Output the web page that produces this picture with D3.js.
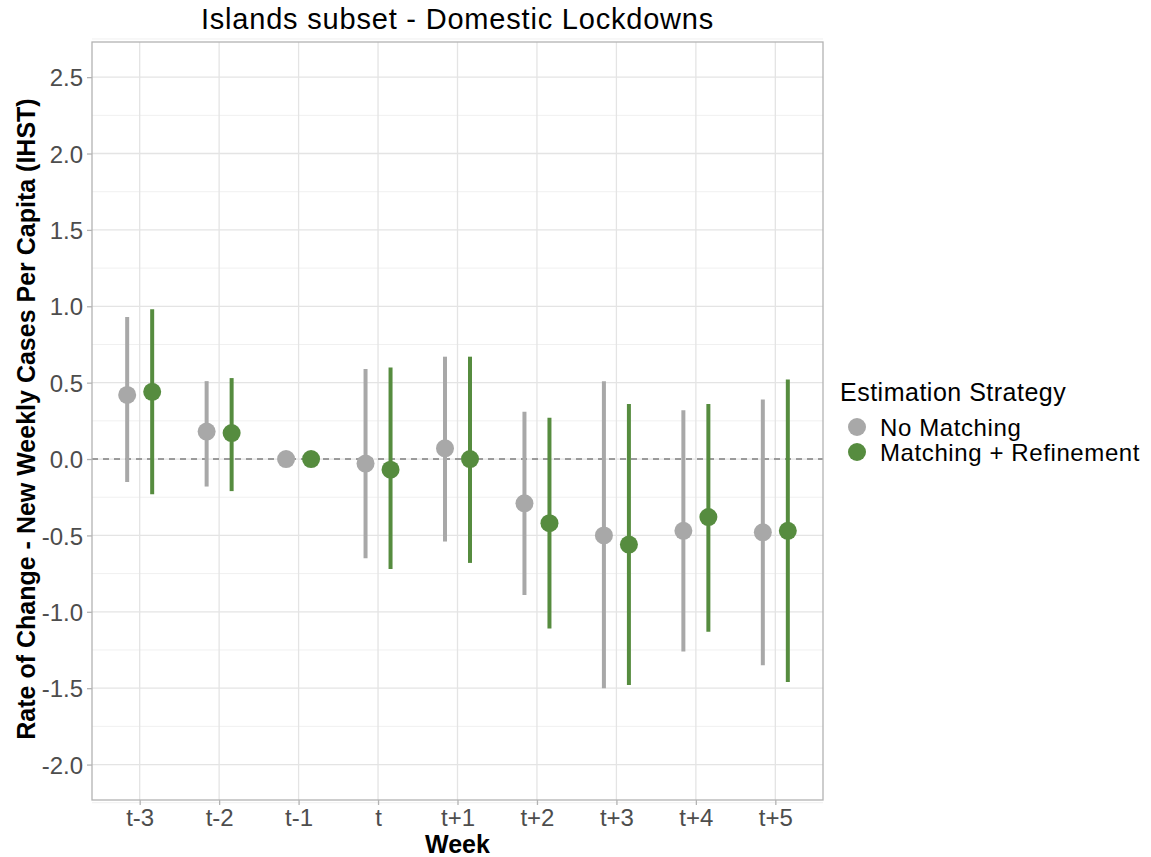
<!DOCTYPE html>
<html>
<head>
<meta charset="utf-8">
<script src="https://cdn.jsdelivr.net/npm/d3@7"></script>
<style>
  body { margin: 0; background: #fff; }
  svg { font-family: "Liberation Sans", Arial, sans-serif; }
</style>
</head>
<body>
<div id="chart"></div>
<script>
// Data
const weeks = ["t-3", "t-2", "t-1", "t", "t+1", "t+2", "t+3", "t+4", "t+5"];
const strategies = ["No Matching", "Matching + Refinement"];
const colors = ["#a8a8a8", "#568c3f"];

const noMatchEst   = [0.42, 0.18, 0.00, -0.03, 0.07, -0.29, -0.50, -0.47, -0.48];
const noMatchLow   = [-0.15, -0.18, 0.00, -0.65, -0.54, -0.89, -1.50, -1.26, -1.35];
const noMatchHigh  = [0.93, 0.51, 0.00, 0.59, 0.67, 0.31, 0.51, 0.32, 0.39];

const refineEst    = [0.44, 0.17, 0.00, -0.07, 0.00, -0.42, -0.56, -0.38, -0.47];
const refineLow    = [-0.23, -0.21, 0.00, -0.72, -0.68, -1.11, -1.48, -1.13, -1.46];
const refineHigh   = [0.98, 0.53, 0.00, 0.60, 0.67, 0.27, 0.36, 0.36, 0.52];

const yTicks = [2.5, 2.0, 1.5, 1.0, 0.5, 0.0, -0.5, -1.0, -1.5, -2.0];

const svgWidth = 1151;
const svgHeight = 857;
const margin = { top: 42, right: 328, bottom: 57, left: 92 };
const width = svgWidth - margin.left - margin.right;
const height = svgHeight - margin.top - margin.bottom;

const svg = d3.select("#chart")
  .append("svg")
  .attr("width", svgWidth)
  .attr("height", svgHeight);

const chartGroup = svg.append("g")
  .attr("transform", `translate(${margin.left}, ${margin.top})`);

// scales
const xScale = d3.scalePoint()
  .domain(weeks)
  .range([0, width])
  .padding(0.6);

const yScale = d3.scaleLinear()
  .domain([-2.232, 2.73])
  .range([height, 0]);

const dodge = 12.5;

// grid lines (minor then major)
const minor = d3.range(-2.25, 2.76, 0.25).filter(v => Math.abs(v * 2 - Math.round(v * 2)) > 0.01);
chartGroup.selectAll(".minor")
  .data(minor)
  .enter()
  .append("line")
  .attr("x1", 0).attr("x2", width)
  .attr("y1", d => yScale(d)).attr("y2", d => yScale(d))
  .attr("stroke", "#f0f0f0")
  .attr("stroke-width", 1);

chartGroup.selectAll(".major")
  .data(yTicks)
  .enter()
  .append("line")
  .attr("x1", 0).attr("x2", width)
  .attr("y1", d => yScale(d)).attr("y2", d => yScale(d))
  .attr("stroke", "#e4e4e4")
  .attr("stroke-width", 1.3);

chartGroup.selectAll(".vgrid")
  .data(weeks)
  .enter()
  .append("line")
  .attr("x1", d => xScale(d)).attr("x2", d => xScale(d))
  .attr("y1", 0).attr("y2", height)
  .attr("stroke", "#e4e4e4")
  .attr("stroke-width", 1.3);

// zero reference
chartGroup.append("line")
  .attr("x1", 0).attr("x2", width)
  .attr("y1", yScale(0)).attr("y2", yScale(0))
  .attr("stroke", "#808080")
  .attr("stroke-width", 1.5)
  .attr("stroke-dasharray", "6,5");

// series
const series = [
  { est: noMatchEst, low: noMatchLow, high: noMatchHigh, off: -dodge, color: colors[0] },
  { est: refineEst, low: refineLow, high: refineHigh, off: dodge, color: colors[1] }
];

series.forEach(s => {
  const g = chartGroup.append("g");
  g.selectAll("line")
    .data(weeks)
    .enter()
    .append("line")
    .attr("x1", d => xScale(d) + s.off)
    .attr("x2", d => xScale(d) + s.off)
    .attr("y1", (d, i) => yScale(s.low[i]))
    .attr("y2", (d, i) => yScale(s.high[i]))
    .attr("stroke", s.color)
    .attr("stroke-width", 4);
  g.selectAll("circle")
    .data(weeks)
    .enter()
    .append("circle")
    .attr("cx", d => xScale(d) + s.off)
    .attr("cy", (d, i) => yScale(s.est[i]))
    .attr("r", 9)
    .attr("fill", s.color);
});

// panel border
chartGroup.append("rect")
  .attr("width", width)
  .attr("height", height)
  .attr("fill", "none")
  .attr("stroke", "#b3b3b3")
  .attr("stroke-width", 1.3);

// axes (plain hyphen for negatives, like the original)
const leftAxis = d3.axisLeft(yScale)
  .tickValues(yTicks)
  .tickFormat(d => d.toFixed(1))
  .tickSize(5)
  .tickPadding(4);

const bottomAxis = d3.axisBottom(xScale)
  .tickSize(5);

const yAxis = chartGroup.append("g").call(leftAxis);
const xAxis = chartGroup.append("g")
  .attr("transform", `translate(0, ${height})`)
  .call(bottomAxis);

[yAxis, xAxis].forEach(a => {
  a.select(".domain").remove();
  a.selectAll(".tick line").attr("stroke", "#b3b3b3").attr("stroke-width", 1.3);
  a.selectAll(".tick text")
    .attr("fill", "#4d4d4d")
    .style("font-size", "24px")
    .style("font-family", "Liberation Sans, Arial, sans-serif");
});
xAxis.selectAll(".tick text").attr("y", 26).attr("dy", 0);
yAxis.selectAll(".tick text").attr("dy", "0.36em");

// titles
svg.append("text")
  .attr("x", margin.left + width / 2)
  .attr("y", 29)
  .attr("text-anchor", "middle")
  .style("font-size", "29px")
  .style("letter-spacing", "0.8px")
  .attr("fill", "#000")
  .text("Islands subset - Domestic Lockdowns");

svg.append("text")
  .attr("x", margin.left + width / 2)
  .attr("y", 853)
  .attr("text-anchor", "middle")
  .style("font-size", "25px")
  .style("font-weight", "bold")
  .text("Week");

svg.append("text")
  .attr("transform", `translate(35, ${margin.top + height / 2 - 2}) rotate(-90)`)
  .attr("text-anchor", "middle")
  .style("font-size", "25px")
  .style("font-weight", "bold")
  .text("Rate of Change - New Weekly Cases Per Capita (IHST)");

// legend
const legend = svg.append("g").attr("transform", "translate(840, 0)");
legend.append("text")
  .attr("x", 0)
  .attr("y", 401)
  .style("font-size", "25px")
  .style("letter-spacing", "0.5px")
  .attr("fill", "#000")
  .text("Estimation Strategy");

strategies.forEach((name, i) => {
  const cy = 427 + i * 25;
  legend.append("circle")
    .attr("cx", 17)
    .attr("cy", cy)
    .attr("r", 9)
    .attr("fill", colors[i]);
  legend.append("text")
    .attr("x", 40)
    .attr("y", cy + 8.5)
    .style("font-size", "24px")
    .style("letter-spacing", "0.6px")
    .attr("fill", "#000")
    .text(name);
});
</script>
</body>
</html>
